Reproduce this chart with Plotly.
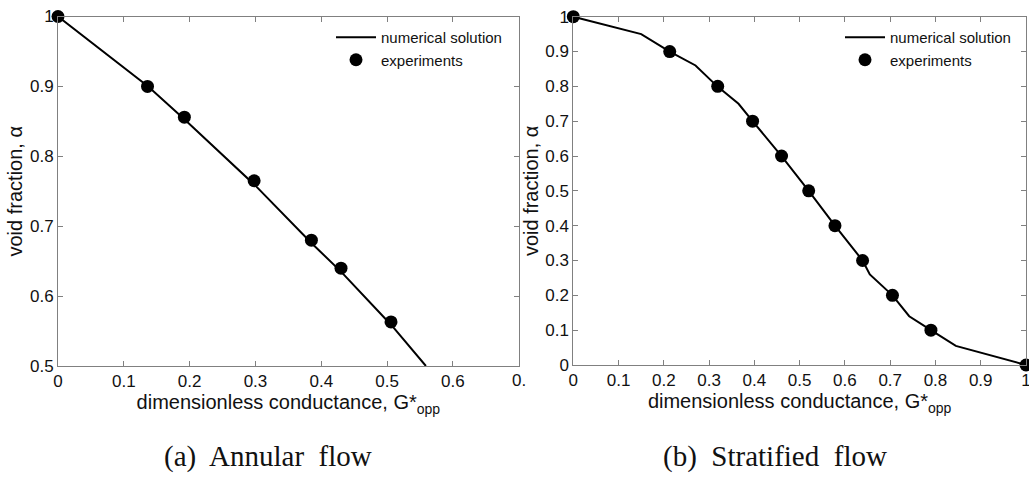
import plotly.graph_objects as go

# ---------------- data ----------------
# (a) Annular flow
annular_num_x = [0, 0.137, 0.192, 0.300, 0.385, 0.430, 0.507, 0.559]
annular_num_y = [1.0, 0.900, 0.853, 0.758, 0.676, 0.635, 0.558, 0.500]
annular_exp_x = [0, 0.136, 0.192, 0.298, 0.385, 0.430, 0.506]
annular_exp_y = [1.0, 0.900, 0.856, 0.765, 0.680, 0.640, 0.563]

# (b) Stratified flow
strat_num_x = [0, 0.150, 0.213, 0.270, 0.318, 0.365, 0.396, 0.460, 0.520, 0.578,
               0.639, 0.655, 0.705, 0.742, 0.790, 0.845, 1.0]
strat_num_y = [1.0, 0.950, 0.900, 0.860, 0.800, 0.750, 0.700, 0.600, 0.500, 0.400,
               0.300, 0.260, 0.200, 0.140, 0.100, 0.055, 0.0]
strat_exp_x = [0, 0.213, 0.319, 0.396, 0.460, 0.520, 0.578, 0.639, 0.705, 0.790, 1.0]
strat_exp_y = [1.0, 0.900, 0.800, 0.700, 0.600, 0.500, 0.400, 0.300, 0.200, 0.100, 0.0]

annular_xticks = [0, 0.1, 0.2, 0.3, 0.4, 0.5, 0.6]
annular_xlabels = ["0", "0.1", "0.2", "0.3", "0.4", "0.5", "0.6"]
annular_yticks = [0.5, 0.6, 0.7, 0.8, 0.9, 1.0]
annular_ylabels = ["0.5", "0.6", "0.7", "0.8", "0.9", "1"]
strat_ticks = [0, 0.1, 0.2, 0.3, 0.4, 0.5, 0.6, 0.7, 0.8, 0.9, 1.0]
strat_labels = ["0", "0.1", "0.2", "0.3", "0.4", "0.5", "0.6", "0.7", "0.8", "0.9", "1"]

x_title = "dimensionless conductance, G*<sub>opp</sub>"
y_title = "void fraction, α"
captions = ["(a)  Annular  flow", "(b)  Stratified  flow"]

W, H = 1029, 482
FONT = "Liberation Sans, Arial, sans-serif"
AX = "#808080"

fig = go.Figure()

line_style = dict(color="black", width=2)
marker_style = dict(color="black", size=13, symbol="circle")

fig.add_trace(go.Scatter(x=annular_num_x, y=annular_num_y, mode="lines", line=line_style,
                         name="numerical solution", xaxis="x", yaxis="y", legend="legend",
                         cliponaxis=False))
fig.add_trace(go.Scatter(x=annular_exp_x, y=annular_exp_y, mode="markers", marker=marker_style,
                         name="experiments", xaxis="x", yaxis="y", legend="legend",
                         cliponaxis=False))
fig.add_trace(go.Scatter(x=strat_num_x, y=strat_num_y, mode="lines", line=line_style,
                         name="numerical solution", xaxis="x2", yaxis="y2", legend="legend2",
                         cliponaxis=False))
fig.add_trace(go.Scatter(x=strat_exp_x, y=strat_exp_y, mode="markers", marker=marker_style,
                         name="experiments", xaxis="x2", yaxis="y2", legend="legend2",
                         cliponaxis=False))

def px_x(p):
    return p / W

def px_y(p):
    return 1 - p / H

axis_common = dict(
    showline=True, linecolor=AX, linewidth=1, mirror="allticks",
    ticks="inside", ticklen=5, tickcolor=AX, tickwidth=1,
    showgrid=False, zeroline=False, automargin=False, ticklabeloverflow="allow",
    tickfont=dict(family=FONT, size=17, color="#111111"),
    title_font=dict(family=FONT, size=20, color="#111111"),
)

legend_common = dict(xanchor="left", yanchor="top",
                     bgcolor="rgba(0,0,0,0)", borderwidth=0, itemwidth=40,
                     font=dict(family=FONT, size=15, color="#111111"), tracegroupgap=0)

fig.update_layout(
    width=W, height=H,
    margin=dict(l=0, r=0, t=0, b=0, autoexpand=False),
    paper_bgcolor="white", plot_bgcolor="white",
    xaxis=dict(domain=[px_x(58), px_x(518.7)], range=[0, 0.7], anchor="y",
               tickvals=annular_xticks, ticktext=annular_xlabels,
               title=dict(text=x_title, standoff=3), **axis_common),
    yaxis=dict(domain=[px_y(366), px_y(16.5)], range=[0.5, 1.0], anchor="x",
               tickvals=annular_yticks, ticktext=annular_ylabels,
               title=dict(text=y_title, standoff=1), **axis_common),
    xaxis2=dict(domain=[px_x(573.3), px_x(1026)], range=[0, 1.0], anchor="y2",
                tickvals=strat_ticks, ticktext=strat_labels,
                title=dict(text=x_title, standoff=3), **axis_common),
    yaxis2=dict(domain=[px_y(365), px_y(16.7)], range=[0, 1.0], anchor="x2",
                tickvals=strat_ticks, ticktext=strat_labels,
                title=dict(text=y_title, standoff=1), **axis_common),
    legend=dict(x=px_x(331), y=px_y(21), **legend_common),
    legend2=dict(x=px_x(840), y=px_y(21), **legend_common),
    showlegend=True,
)

# clipped "0." tick label at the right edge of the left panel (0.7 in the source)
fig.add_annotation(x=0.7, y=0.5, xref="x", yref="y", text="0.", showarrow=False,
                   xanchor="center", yanchor="top", yshift=-3,
                   font=dict(family=FONT, size=17, color="#111111"))

fig.add_annotation(x=px_x(268), y=px_y(456), xref="paper", yref="paper", text=captions[0],
                   showarrow=False, xanchor="center", yanchor="middle",
                   font=dict(family="Liberation Serif, Times New Roman, serif", size=29, color="#111111"))
fig.add_annotation(x=px_x(775), y=px_y(456), xref="paper", yref="paper", text=captions[1],
                   showarrow=False, xanchor="center", yanchor="middle",
                   font=dict(family="Liberation Serif, Times New Roman, serif", size=29, color="#111111"))

fig.write_html("out.html")
